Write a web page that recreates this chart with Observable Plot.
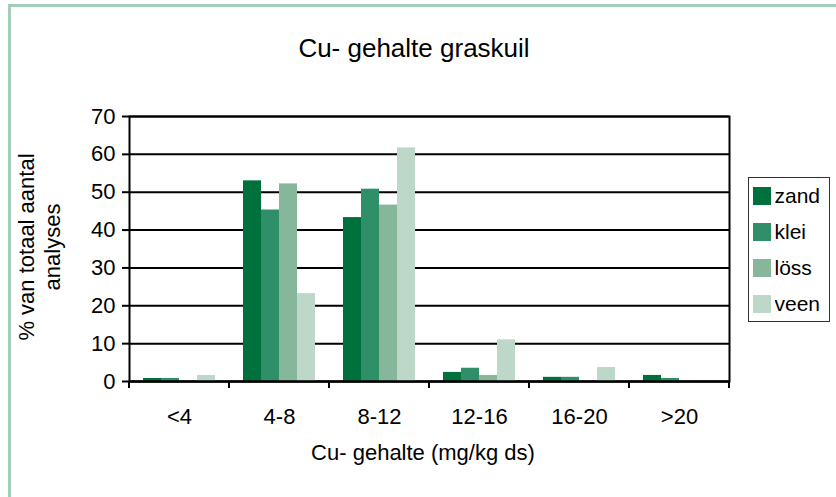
<!DOCTYPE html>
<html><head><meta charset="utf-8">
<script src="https://cdn.jsdelivr.net/npm/d3@7"></script>
<script src="https://cdn.jsdelivr.net/npm/@observablehq/plot@0.6"></script>
<style>
html,body{margin:0;padding:0;background:#fff;}
#wrap{position:relative;width:836px;height:497px;overflow:hidden;font-family:"Liberation Sans",Arial,Helvetica,sans-serif;color:#000;background:#fff;}
#border{position:absolute;left:8px;top:4px;width:900px;height:600px;border-left:3px solid #a3cdb6;border-top:3px solid #a3cdb6;}
#chart{position:absolute;left:0;top:0;}
#overlay{position:absolute;left:0;top:0;pointer-events:none;}
#legend{position:absolute;left:748px;top:177px;width:82px;height:145px;box-sizing:border-box;border:1.5px solid #333;background:#fff;padding-left:3.5px;padding-top:0;}
#legend > div{margin:0 !important;font-size:21px !important;font-family:"Liberation Sans",Arial,sans-serif !important;color:#000;}
#legend > div > div{height:36px;display:flex;align-items:center;margin:0;padding:0;}
#legend svg{margin-right:4px !important;}
</style></head>
<body><div id="wrap"><div id="border"></div><div id="chart"></div><svg id="overlay" width="836" height="497"></svg><div id="legend"></div></div>
<script>
const categories = ["<4", "4-8", "8-12", "12-16", "16-20", ">20"];
const soils = ["zand", "klei", "löss", "veen"];
const zand = [0.8, 53.0, 43.3, 2.4, 1.1, 1.6];
const klei = [0.8, 45.3, 50.8, 3.5, 1.1, 0.8];
const loss = [0, 52.2, 46.6, 1.6, 0, 0];
const veen = [1.6, 23.2, 61.7, 11.0, 3.7, 0];
const colors = ["#00713d", "#2e8f69", "#86b79b", "#bdd7c8"];
const yTicks = [0, 10, 20, 30, 40, 50, 60, 70];
const title = "Cu- gehalte graskuil";
const xLabel = "Cu- gehalte (mg/kg ds)";
const yLabel = ["% van totaal aantal", "analyses"];

const series = [zand, klei, loss, veen];
const rows = soils.flatMap((s, j) => categories.map((c, i) => ({category: c, soil: s, value: series[j][i]})));

function boundaryTicks(index, scales, values, dims) {
  const g = d3.create("svg:g").attr("stroke", "#000").attr("stroke-width", 2);
  const yb = dims.height - dims.marginBottom;
  for (const x of [dims.marginLeft, dims.width - dims.marginRight]) {
    g.append("line").attr("x1", x).attr("x2", x).attr("y1", yb).attr("y2", yb + 7);
  }
  return g.node();
}

const plot = Plot.plot({
  width: 836, height: 497,
  marginLeft: 127, marginRight: 105, marginTop: 116, marginBottom: 116,
  style: {fontFamily: "Liberation Sans, Arial, sans-serif", fontSize: "22px", color: "#000", background: "transparent", overflow: "visible"},
  fx: {domain: categories, padding: 0},
  x: {domain: soils, paddingInner: 0, paddingOuter: 0.65, axis: null},
  y: {domain: [0, 70], axis: null},
  color: {domain: soils, range: colors},
  marks: [
    Plot.gridY(yTicks, {stroke: "#000", strokeOpacity: 1, strokeWidth: 2}),
    Plot.barY(rows, {fx: "category", x: "soil", y: "value", fill: "soil"}),
    Plot.ruleY([0], {stroke: "#000", strokeWidth: 2}),
    Plot.axisY(yTicks, {tickSize: 7, tickPadding: 7, stroke: "#000", strokeWidth: 2, label: null, fontSize: 22}),
    Plot.axisFx({anchor: "bottom", tickSize: 0, tickPadding: 27, label: null, fontSize: 22}),
    boundaryTicks,
    Plot.frame({facet: "super", stroke: "#000", strokeWidth: 2})
  ]
});
document.getElementById("chart").appendChild(plot);

const leg = plot.legend("color", {columns: 1, swatchSize: 18});
document.getElementById("legend").appendChild(leg);

const ov = d3.select("#overlay").attr("font-family", "Liberation Sans, Arial, sans-serif").attr("fill", "#000");
ov.append("text").attr("x", 414).attr("y", 56.5).attr("text-anchor", "middle").attr("font-size", 26).text(title);
ov.append("text").attr("x", 423).attr("y", 460).attr("text-anchor", "middle").attr("font-size", 22).text(xLabel);
const yl = ov.append("text").attr("transform", "translate(0,247) rotate(-90)").attr("text-anchor", "middle").attr("font-size", 22);
yl.append("tspan").attr("x", 0).attr("y", 34).text(yLabel[0]);
yl.append("tspan").attr("x", 0).attr("y", 59.5).text(yLabel[1]);
</script></body></html>
